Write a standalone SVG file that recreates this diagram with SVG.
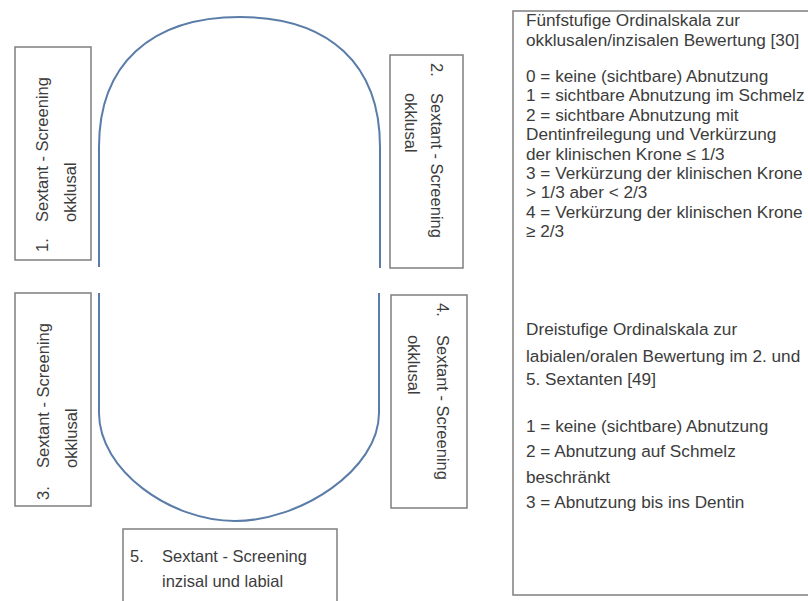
<svg xmlns="http://www.w3.org/2000/svg" width="808" height="601" viewBox="0 0 808 601">
<style>
.box{fill:#ffffff;stroke:#7f7f7f;stroke-width:1.5}
.t{font-family:"Liberation Sans",Arial,sans-serif;font-size:16.5px;fill:#3c3c3c}
.lg{font-size:17.2px}
.arch{fill:none;stroke:#5a7ca8;stroke-width:2}
</style>
<rect width="808" height="601" fill="#ffffff"/>
<g id="connectors">
<path class="arch" d="M99,267 V147 C99,65 150,17 240,17 C330,17 380,65 380,147 V268"/>
<path class="arch" d="M99,293 V413 C99,470 170,521 235,521 C300,521 379,470 379,413 V293"/>
</g>
<g id="node1">
<rect class="box" x="15" y="47" width="76" height="213"/>
<g transform="translate(48,252) rotate(-90)">
<text class="t" x="0" y="0">1.</text>
<text class="t" x="30" y="0">Sextant - Screening</text>
<text class="t" x="30" y="28">okklusal</text>
</g>
</g>
<g id="node2">
<rect class="box" x="390" y="55" width="73" height="213"/>
<g transform="translate(431,63) rotate(90)">
<text class="t" x="0" y="0">2.</text>
<text class="t" x="30" y="0">Sextant - Screening</text>
<text class="t" x="30" y="26">okklusal</text>
</g>
</g>
<g id="node3">
<rect class="box" x="15" y="293" width="76" height="213"/>
<g transform="translate(49,500) rotate(-90)">
<text class="t" x="0" y="0">3.</text>
<text class="t" x="32" y="0">Sextant - Screening</text>
<text class="t" x="32" y="28">okklusal</text>
</g>
</g>
<g id="node4">
<rect class="box" x="391" y="295" width="76" height="213"/>
<g transform="translate(437,303) rotate(90)">
<text class="t" x="0" y="0">4.</text>
<text class="t" x="32" y="0">Sextant - Screening</text>
<text class="t" x="32" y="29">okklusal</text>
</g>
</g>
<g id="node5">
<rect class="box" x="123" y="529" width="214" height="80"/>
<text class="t" x="130" y="562">5.</text>
<text class="t" x="162" y="562">Sextant - Screening</text>
<text class="t" x="162" y="587">inzisal und labial</text>
</g>
<g id="legend">
<rect class="box" x="513" y="11" width="310" height="584"/>
<text class="t lg" x="526" y="26">Fünfstufige Ordinalskala zur</text>
<text class="t lg" x="526" y="45.5">okklusalen/inzisalen Bewertung [30]</text>
<text class="t lg" x="526" y="82">0 = keine (sichtbare) Abnutzung</text>
<text class="t lg" x="526" y="101.4">1 = sichtbare Abnutzung im Schmelz</text>
<text class="t lg" x="526" y="120.8">2 = sichtbare Abnutzung mit</text>
<text class="t lg" x="526" y="140.2">Dentinfreilegung und Verkürzung</text>
<text class="t lg" x="526" y="159.6">der klinischen Krone ≤ 1/3</text>
<text class="t lg" x="526" y="179">3 = Verkürzung der klinischen Krone</text>
<text class="t lg" x="526" y="198.4">&gt; 1/3 aber &lt; 2/3</text>
<text class="t lg" x="526" y="217.8">4 = Verkürzung der klinischen Krone</text>
<text class="t lg" x="526" y="237.2">≥ 2/3</text>
<text class="t lg" x="526" y="335">Dreistufige Ordinalskala zur</text>
<text class="t lg" x="526" y="362">labialen/oralen Bewertung im 2. und</text>
<text class="t lg" x="526" y="385">5. Sextanten [49]</text>
<text class="t lg" x="526" y="432">1 = keine (sichtbare) Abnutzung</text>
<text class="t lg" x="526" y="457">2 = Abnutzung auf Schmelz</text>
<text class="t lg" x="526" y="483">beschränkt</text>
<text class="t lg" x="526" y="508">3 = Abnutzung bis ins Dentin</text>
</g>
</svg>
